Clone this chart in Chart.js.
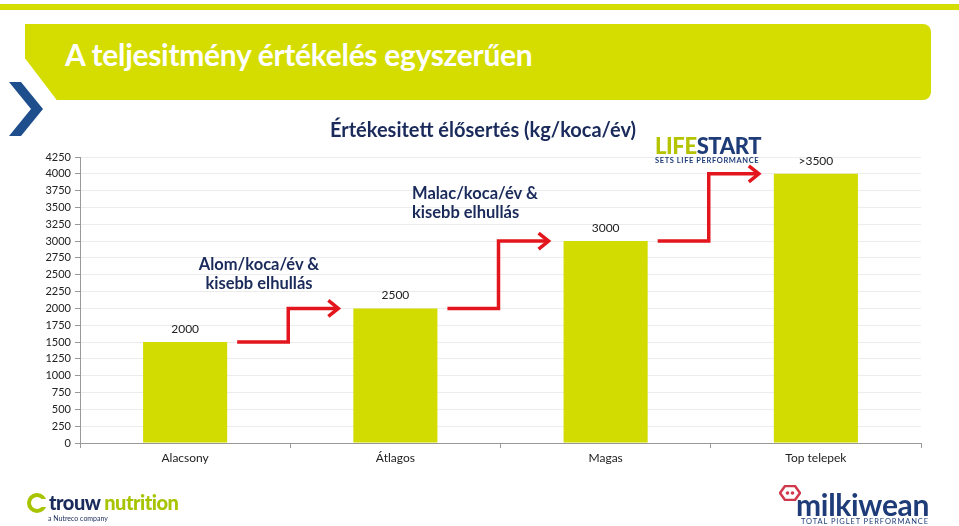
<!DOCTYPE html>
<html>
<head>
<meta charset="utf-8">
<script src="https://cdn.jsdelivr.net/npm/chart.js@4.4.1/dist/chart.umd.min.js"></script>
<style>
  html, body { margin: 0; padding: 0; background: #fff; }
  body { width: 959px; height: 526px; position: relative; overflow: hidden; font-family: Lato, "Open Sans", sans-serif; }
  .stripe { position: absolute; left: 0; top: 4px; width: 959px; height: 6px; background: #d4dc00; }
  .banner { position: absolute; left: 25px; top: 24px; width: 906px; height: 76px; background: #d4dc00;
    border-radius: 0 8px 8px 0; clip-path: polygon(0 0, 100% 0, 100% 100%, 3.5% 100%, 0 45%); }
  .banner h1 { margin: 0; position: absolute; left: 40px; top: 12px; color: #fff; font-size: 30px; font-weight: 700; letter-spacing: -0.3px; }
  .chev { position: absolute; left: 6px; top: 80px; }
  #wrap { position: absolute; left: 0; top: 0; width: 959px; height: 526px; }
  .title { position: absolute; left: 0; width: 966px; top: 117px; text-align: center; color: #1a2a5a; font-weight: 700; font-size: 20px; }
  .note { position: absolute; color: #1a2a5a; font-weight: 700; font-size: 16.5px; line-height: 19px; }
  .life { position: absolute; left: 655px; top: 136px; font-weight: 900; font-size: 22px; letter-spacing: -0.4px; line-height: 20px; }
  .life .a { color: #b5c400; } .life .b { color: #1e3c78; }
  .life small { display: block; font-size: 7.5px; font-weight: 700; color: #1e3c78; letter-spacing: 0.6px; line-height: 10px; }
  .trouw { position: absolute; left: 27px; top: 490px; }
  .trouw .t { position: absolute; left: 22px; top: 0; font-size: 20px; font-weight: 900; white-space: nowrap; letter-spacing: -0.5px; }
  .trouw .t .a { color: #1a2a5a; } .trouw .t .b { color: #a8c400; }
  .trouw .s { position: absolute; left: 21px; top: 24px; font-size: 7px; color: #1a2a5a; white-space: nowrap; }
  .milk { position: absolute; left: 778px; top: 485px; }
  .milk .t { position: absolute; left: 18px; top: 1px; font-size: 30px; font-weight: 700; color: #1e3c78; letter-spacing: -0.3px; white-space: nowrap; }
  .milk .s { position: absolute; left: 23px; top: 32px; font-size: 7.5px; color: #1e3c78; letter-spacing: 0.9px; white-space: nowrap; }
</style>
</head>
<body>
<div class="stripe"></div>
<div class="banner"><h1>A teljesitmény értékelés egyszerűen</h1></div>
<svg class="chev" width="42" height="58" viewBox="0 0 42 58">
  <polygon points="3,2 15,2 37,29 15,56 3,56 25,29" fill="#1e4f8c"/>
</svg>
<div id="wrap"><canvas id="chart"></canvas></div>
<div class="title">Értékesitett élősertés (kg/koca/év)</div>
<div class="note" style="left:196px; top:255px; text-align:center; width:126px;">Alom/koca/év &amp;<br>kisebb elhullás</div>
<div class="note" style="left:412px; top:184px;">Malac/koca/év &amp;<br>kisebb elhullás</div>
<div class="life"><span class="a">LIFE</span><span class="b">START</span><small>SETS LIFE PERFORMANCE</small></div>
<div class="trouw">
  <svg width="20" height="22" viewBox="0 0 20 22" style="position:absolute;left:0;top:2px">
    <circle cx="10" cy="11" r="8" fill="none" stroke="#a8c400" stroke-width="4"/>
    <rect x="12" y="7" width="8" height="8" fill="#fff"/>
  </svg>
  <div class="t"><span class="a">trouw</span> <span class="b">nutrition</span></div>
  <div class="s">a Nutreco company</div>
</div>
<div class="milk">
  <svg width="22" height="16" viewBox="0 0 22 16" style="position:absolute;left:1px;top:0px">
    <polygon points="6,1 16,1 21,8 16,15 6,15 1,8" fill="none" stroke="#d0384b" stroke-width="2.5"/>
    <circle cx="8.5" cy="8" r="1.8" fill="#d0384b"/><circle cx="13.5" cy="8" r="1.8" fill="#d0384b"/>
  </svg>
  <div class="t">milkiwean</div>
  <div class="s">TOTAL PIGLET PERFORMANCE</div>
</div>
<script>
const categories = ["Alacsony", "Átlagos", "Magas", "Top telepek"];
const barValues = [1500, 2000, 3000, 4000];
const barLabels = ["2000", "2500", "3000", ">3500"];
const yMax = 4250;
const yStep = 250;

const barColor = "#d2dc00";
const arrowColor = "#e3161d";

// labels above bars (text differs from bar height in the source)
const topLabels = {
  id: "topLabels",
  afterDatasetsDraw(chart) {
    const ctx = chart.ctx;
    const meta = chart.getDatasetMeta(0);
    ctx.save();
    ctx.font = "12px Lato, 'Open Sans', sans-serif";
    ctx.fillStyle = "#222";
    ctx.textAlign = "center";
    ctx.textBaseline = "middle";
    meta.data.forEach((bar, i) => {
      ctx.fillText(barLabels[i], bar.x, bar.y - 13);
    });
    ctx.restore();
  }
};

// red step arrows between bars
const stepArrows = {
  id: "stepArrows",
  afterDatasetsDraw(chart) {
    const ctx = chart.ctx;
    const bars = chart.getDatasetMeta(0).data;
    ctx.save();
    ctx.strokeStyle = arrowColor;
    ctx.lineWidth = 3.5;
    for (let i = 0; i < bars.length - 1; i++) {
      const a = bars[i];
      const b = bars[i + 1];
      const x0 = a.x + a.width / 2 + 10;
      const xm = (a.x + b.x) / 2 - 2;
      const x1 = b.x - b.width / 2 - 15;
      ctx.beginPath();
      ctx.moveTo(x0, a.y);
      ctx.lineTo(xm, a.y);
      ctx.lineTo(xm, b.y);
      ctx.lineTo(x1, b.y);
      ctx.stroke();
      ctx.beginPath();
      ctx.moveTo(x1 - 10, b.y - 8);
      ctx.lineTo(x1, b.y);
      ctx.lineTo(x1 - 10, b.y + 8);
      ctx.stroke();
    }
    ctx.restore();
  }
};

new Chart(document.getElementById("chart"), {
  type: "bar",
  data: {
    labels: categories,
    datasets: [{
      data: barValues,
      backgroundColor: barColor,
      borderWidth: 0,
      categoryPercentage: 1,
      barPercentage: 0.4
    }]
  },
  options: {
    responsive: true,
    maintainAspectRatio: false,
    animation: false,
    layout: { padding: { top: 157, left: 30, right: 38, bottom: 53 } },
    plugins: {
      legend: { display: false },
      tooltip: { enabled: false }
    },
    scales: {
      x: {
        afterFit(scale) { scale.height = 30; },
        grid: { display: true, drawOnChartArea: false, drawTicks: true, tickLength: 5, color: "#999", offset: true },
        border: { color: "#999" },
        ticks: { color: "#222", font: { family: "Lato, 'Open Sans', sans-serif", size: 12 }, padding: 3 }
      },
      y: {
        min: 0,
        max: yMax,
        afterFit(scale) { scale.width = 50; },
        ticks: {
          stepSize: yStep,
          color: "#222",
          font: { family: "Lato, 'Open Sans', sans-serif", size: 11 },
          padding: 4,
          callback: (v) => String(v)
        },
        grid: { color: "#ececec", tickLength: 5, tickColor: "#999" },
        border: { color: "#999" }
      }
    }
  },
  plugins: [topLabels, stepArrows]
});
</script>
</body>
</html>
